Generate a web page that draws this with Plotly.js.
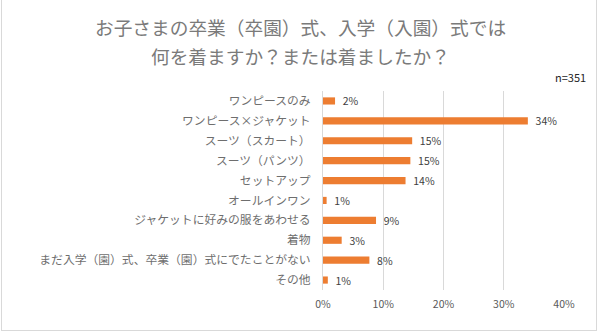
<!DOCTYPE html>
<html>
<head>
<meta charset="utf-8">
<script src="https://cdn.plot.ly/plotly-3.0.1.min.js"></script>
<style>
  html, body { margin: 0; padding: 0; background: #fff; }
  #wrap { position: relative; width: 600px; height: 333px; }
  #chart { width: 600px; height: 333px; }
  #frame { position: absolute; left: 1px; top: -1px; width: 596px; height: 332px; border: 1px solid #d9d9d9; box-sizing: border-box; pointer-events: none; }
</style>
</head>
<body>
<div id="wrap"><div id="chart"></div><div id="frame"></div></div>
<script>
const categories = [
  "ワンピースのみ",
  "ワンピース×ジャケット",
  "スーツ（スカート）",
  "スーツ（パンツ）",
  "セットアップ",
  "オールインワン",
  "ジャケットに好みの服をあわせる",
  "着物",
  "まだ入学（園）式、卒業（園）式にでたことがない",
  "その他"
];
const values = [0.020, 0.340, 0.148, 0.145, 0.137, 0.006, 0.088, 0.031, 0.077, 0.008];
const valueLabels = ["2%", "34%", "15%", "15%", "14%", "1%", "9%", "3%", "8%", "1%"];
const tickVals = [0, 0.1, 0.2, 0.3, 0.4];
const tickText = ["0%", "10%", "20%", "30%", "40%"];
const titleLine1 = "お子さまの卒業（卒園）式、入学（入園）式では";
const titleLine2 = "何を着ますか？または着ましたか？";
const sampleNote = "n=351";

const font = '"Noto Sans CJK JP", "Noto Sans", sans-serif';
const W = 600, H = 333;
const M = { l: 323, r: 36, t: 91, b: 43 };
const titleX = (W / 2 - M.l) / (W - M.l - M.r);

const trace = {
  type: "bar",
  orientation: "h",
  x: values,
  y: categories,
  text: valueLabels.map(t => "  " + t),
  textposition: "outside",
  constraintext: "none",
  cliponaxis: false,
  textfont: { family: font, size: 10.5, color: "#404040" },
  marker: { color: "#ED7D31" },
  hoverinfo: "none"
};

const layout = {
  width: W,
  height: H,
  margin: M,
  paper_bgcolor: "#ffffff",
  plot_bgcolor: "#ffffff",
  showlegend: false,
  bargap: 0.64,
  font: { family: font, color: "#595959" },
  xaxis: {
    range: [0, 0.4],
    tickvals: tickVals,
    ticktext: tickText,
    showgrid: true,
    gridcolor: "#d9d9d9",
    gridwidth: 1,
    zeroline: false,
    showline: false,
    ticks: "",
    ticklabelstandoff: 6,
    tickfont: { family: font, size: 10.5, color: "#595959" },
    fixedrange: true
  },
  yaxis: {
    autorange: "reversed",
    showgrid: false,
    zeroline: false,
    showline: true,
    linecolor: "#d9d9d9",
    linewidth: 1,
    ticks: "",
    ticklabelstandoff: 9,
    tickfont: { family: font, size: 11.8, color: "#6e6e6e" },
    fixedrange: true
  },
  annotations: [
    { text: titleLine1, xref: "paper", yref: "paper", x: titleX, y: 1, yshift: 65, xanchor: "center", yanchor: "middle",
      showarrow: false, font: { family: font, size: 18.7, color: "#7a7a7a" } },
    { text: titleLine2, xref: "paper", yref: "paper", x: titleX, y: 1, yshift: 36, xanchor: "center", yanchor: "middle",
      showarrow: false, font: { family: font, size: 18.7, color: "#7a7a7a" } },
    { text: sampleNote, xref: "paper", yref: "paper", x: 1, y: 1, xshift: 24, yshift: 14, xanchor: "right", yanchor: "middle",
      showarrow: false, font: { family: font, size: 11, color: "#262626" } }
  ]
};

Plotly.newPlot("chart", [trace], layout, { staticPlot: true, displayModeBar: false });
</script>
</body>
</html>
